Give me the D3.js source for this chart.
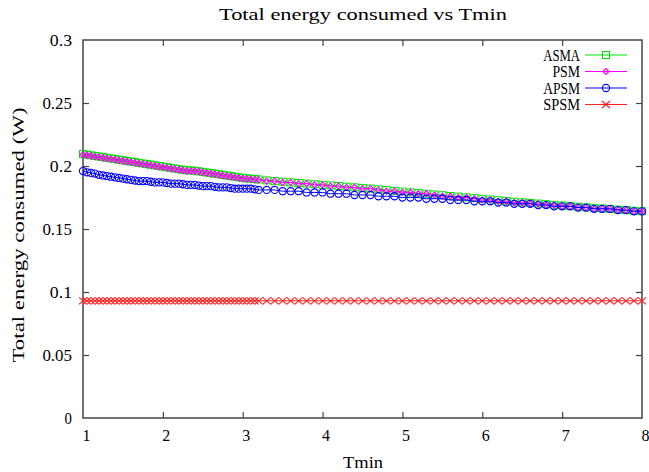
<!DOCTYPE html>
<html><head><meta charset="utf-8">
<script src="https://cdn.jsdelivr.net/npm/d3@7"></script>
<style>body{margin:0;background:#fff}svg{display:block}text{font-family:"Liberation Serif",serif;fill:#000}</style>
</head><body><svg id="c" width="649" height="472"></svg>
<script>
const tmin = [1.0,1.05,1.1,1.15,1.2,1.25,1.3,1.35,1.4,1.45,1.5,1.55,1.6,1.65,1.7,1.75,1.8,1.85,1.9,1.95,2.0,2.05,2.1,2.15,2.2,2.25,2.3,2.35,2.4,2.45,2.5,
  2.55,2.6,2.65,2.7,2.75,2.8,2.85,2.9,2.95,3.0,3.05,3.1,3.15,3.2,
  3.3,3.4,3.5,3.6,3.7,3.8,3.9,4.0,4.1,4.2,4.3,4.4,4.5,4.6,4.7,4.8,4.9,5.0,5.1,5.2,5.3,5.4,5.5,5.6,5.7,5.8,5.9,6.0,6.1,6.2,6.3,6.4,6.5,6.6,6.7,6.8,6.9,7.0,7.1,7.2,7.3,7.4,7.5,7.6,7.7,7.8,7.9,8.0];
const asma = [0.2095,0.209,0.2085,0.208,0.2075,0.207,0.2065,0.206,0.2055,0.205,0.2045,0.204,0.2035,0.203,0.2025,0.202,0.2015,0.201,0.2005,0.200,0.1995,0.199,0.1985,0.198,0.1975,0.197,0.1965,0.1965,0.1962,0.1958,0.1953,
  0.1948,0.1944,0.1939,0.1935,0.1930,0.1925,0.1920,0.1915,0.1910,0.1905,0.1902,0.1899,0.1896,0.1893,
  0.1886,0.1880,0.1875,0.1870,0.1865,0.1860,0.1855,0.1851,0.1846,0.1841,0.1836,0.1831,0.1826,0.1821,0.1815,0.1809,0.1803,0.1797,0.1791,0.1785,0.1780,0.1774,0.1768,0.1762,0.1757,0.1751,0.1745,0.1739,0.1734,0.1728,0.1723,0.1717,0.1712,0.1707,0.1702,0.1697,0.1692,0.1687,0.1682,0.1677,0.1672,0.1668,0.1663,0.1659,0.1654,0.1650,0.1645,0.1641];
const psm = [0.209,0.2085,0.208,0.2075,0.207,0.2065,0.206,0.2055,0.205,0.2045,0.204,0.2035,0.203,0.2025,0.202,0.2015,0.201,0.2005,0.200,0.1995,0.199,0.1985,0.198,0.1975,0.197,0.1965,0.196,0.196,0.196,0.1955,0.195,
  0.1945,0.194,0.1935,0.193,0.1925,0.192,0.1915,0.191,0.1905,0.190,0.1898,0.1895,0.1892,0.189,
  0.188,0.188,0.187,0.187,0.186,0.186,0.185,0.185,0.184,0.184,0.183,0.183,0.182,0.182,0.181,0.180,0.180,0.179,0.179,0.178,0.178,0.177,0.176,0.176,0.175,0.175,0.174,0.173,0.173,0.172,0.172,0.171,0.171,0.170,0.170,0.169,0.169,0.168,0.168,0.167,0.167,0.166,0.166,0.166,0.165,0.165,0.164,0.164];
const apsm = [0.196,0.195,0.1945,0.194,0.193,0.1925,0.192,0.1915,0.191,0.1905,0.190,0.1895,0.189,0.1885,0.188,0.188,0.188,0.1875,0.187,0.187,0.187,0.1865,0.186,0.186,0.186,0.1855,0.185,0.185,0.185,0.1845,0.184,
  0.184,0.184,0.1835,0.183,0.183,0.183,0.1825,0.182,0.182,0.182,0.182,0.182,0.1815,0.181,
  0.181,0.181,0.180,0.180,0.180,0.179,0.179,0.179,0.178,0.178,0.178,0.177,0.177,0.177,0.176,0.176,0.176,0.175,0.175,0.175,0.174,0.174,0.174,0.173,0.173,0.173,0.172,0.172,0.172,0.171,0.171,0.170,0.170,0.170,0.169,0.169,0.168,0.168,0.168,0.167,0.167,0.166,0.166,0.166,0.165,0.165,0.164,0.164];
const spsm = [0.093,0.093,0.093,0.093,0.093,0.093,0.093,0.093,0.093,0.093,0.093,0.093,0.093,0.093,0.093,0.093,0.093,0.093,0.093,0.093,0.093,0.093,0.093,0.093,0.093,0.093,0.093,0.093,0.093,0.093,0.093,
  0.093,0.093,0.093,0.093,0.093,0.093,0.093,0.093,0.093,0.093,0.093,0.093,0.093,0.093,
  0.093,0.093,0.093,0.093,0.093,0.093,0.093,0.093,0.093,0.093,0.093,0.093,0.093,0.093,0.093,0.093,0.093,0.093,0.093,0.093,0.093,0.093,0.093,0.093,0.093,0.093,0.093,0.093,0.093,0.093,0.093,0.093,0.093,0.093,0.093,0.093,0.093,0.093,0.093,0.093,0.093,0.093,0.093,0.093,0.093,0.093,0.093,0.093];
const seriesNames = ["ASMA","PSM","APSM","SPSM"];
const seriesColors = ["#00e000","#ff00ff","#0000ff","#ff2020"];
const seriesMarkers = ["square","diamond","circle","cross"];
const xTicks = [1,2,3,4,5,6,7,8];
const yTicks = [0,0.05,0.1,0.15,0.2,0.25,0.3];
const yTickLabels = ["0","0.05","0.1","0.15","0.2","0.25","0.3"];
const title = "Total energy consumed vs Tmin";
const xLabel = "Tmin";
const yLabel = "Total energy consumed (W)";

const svg = d3.select("#c");
const L=83,R=642,T=40,B=418;
const x = d3.scaleLinear().domain([1,8]).range([L,R]);
const y = d3.scaleLinear().domain([0,0.3]).range([B,T]);
const data = [asma,psm,apsm,spsm];
const frameColor = "#444";
const FONT = '"Liberation Serif",serif';

const tl=6;
const gx = svg.append("g").attr("transform",`translate(0,${B})`)
  .call(d3.axisBottom(x).tickValues(xTicks).tickSize(-tl).tickPadding(12).tickFormat(d3.format("d")));
const gxt = svg.append("g").attr("transform",`translate(0,${T})`)
  .call(d3.axisTop(x).tickValues(xTicks).tickSize(-tl).tickFormat(""));
const gy = svg.append("g").attr("transform",`translate(${L},0)`)
  .call(d3.axisLeft(y).tickValues(yTicks).tickSize(-tl).tickPadding(11).tickFormat((d,i)=>yTickLabels[i]));
const gyr = svg.append("g").attr("transform",`translate(${R},0)`)
  .call(d3.axisRight(y).tickValues(yTicks).tickSize(-tl).tickFormat(""));
[gx,gxt,gy,gyr].forEach(g=>{
  g.select(".domain").remove();
  g.selectAll(".tick line").attr("stroke",frameColor).attr("stroke-width",1.2);
  g.selectAll("text").style("font-family",FONT).style("font-size","16px").attr("fill","#000");
});
gy.selectAll(".tick text").each(function(){
  const t=d3.select(this); const n=t.text().length;
  t.attr("textLength",n*7.4).attr("lengthAdjust","spacingAndGlyphs");
});
gx.selectAll(".tick text").attr("dx","3");
gx.selectAll(".tick").filter(d=>d===1||d===8).select("line").remove();
gxt.selectAll(".tick").filter(d=>d===1||d===8).select("line").remove();
gy.selectAll(".tick").filter(d=>d===0||d===0.3).select("line").remove();
gyr.selectAll(".tick").filter(d=>d===0||d===0.3).select("line").remove();

svg.append("rect").attr("x",L).attr("y",T).attr("width",R-L).attr("height",B-T)
  .attr("fill","none").attr("stroke",frameColor).attr("stroke-width",1.5);

function drawMarker(g, type, cx, cy, color){
  if(type==="square"){
    g.append("rect").attr("x",cx-3.5).attr("y",cy-3.5).attr("width",7).attr("height",7)
      .attr("fill","none").attr("stroke",color).attr("stroke-width",1);
  } else if(type==="diamond"){
    g.append("path").attr("d",`M${cx},${cy-3}L${cx+3},${cy}L${cx},${cy+3}L${cx-3},${cy}Z`)
      .attr("fill","none").attr("stroke",color).attr("stroke-width",1.2);
  } else if(type==="circle"){
    g.append("circle").attr("cx",cx).attr("cy",cy).attr("r",3.6)
      .attr("fill","none").attr("stroke",color).attr("stroke-width",1.1);
  } else {
    g.append("path").attr("d",`M${cx-4},${cy-3.5}L${cx+4},${cy+3.5}M${cx-4},${cy+3.5}L${cx+4},${cy-3.5}`)
      .attr("stroke",color).attr("stroke-width",1.1);
  }
}

const line = d3.line().x((d,i)=>x(tmin[i])).y(d=>y(d));
data.forEach((vals,si)=>{
  const g = svg.append("g");
  g.append("path").datum(vals).attr("d",line).attr("fill","none")
    .attr("stroke",seriesColors[si]).attr("stroke-width",1);
  vals.forEach((v,i)=>drawMarker(g,seriesMarkers[si],x(tmin[i]),y(v),seriesColors[si]));
});

// legend
const lg = svg.append("g");
seriesNames.forEach((n,i)=>{
  const yy = 55 + i*16.5;
  lg.append("text").attr("x",580).attr("y",yy).attr("dy","0.35em").attr("text-anchor","end")
    .style("font-size","16px").attr("textLength",n.length*9.2).attr("lengthAdjust","spacingAndGlyphs").text(n);
  lg.append("line").attr("x1",585).attr("x2",627).attr("y1",yy).attr("y2",yy)
    .attr("stroke",seriesColors[i]).attr("stroke-width",1);
  drawMarker(lg,seriesMarkers[i],606,yy,seriesColors[i]);
});

svg.append("text").attr("x",363).attr("y",20).attr("text-anchor","middle")
  .style("font-size","17px").attr("textLength",288).attr("lengthAdjust","spacingAndGlyphs").text(title);
svg.append("text").attr("x",363).attr("y",468).attr("text-anchor","middle")
  .style("font-size","17px").attr("textLength",40).attr("lengthAdjust","spacingAndGlyphs").text(xLabel);
svg.append("text").attr("transform","translate(24,235) rotate(-90)").attr("text-anchor","middle")
  .style("font-size","17px").attr("textLength",255).attr("lengthAdjust","spacingAndGlyphs").text(yLabel);
</script></body></html>
